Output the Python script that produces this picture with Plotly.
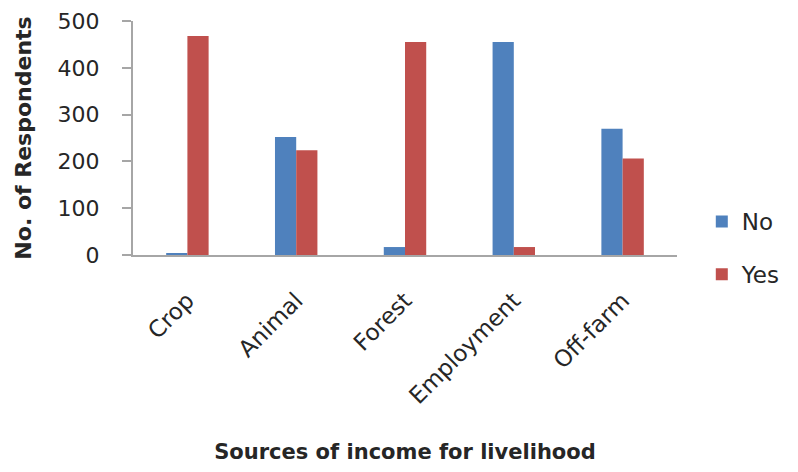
import plotly.graph_objects as go

categories = ["Crop", "Animal", "Forest", "Employment", "Off-farm"]
no_values = [4, 252, 17, 455, 270]
yes_values = [468, 224, 455, 17, 206]
y_ticks = [0, 100, 200, 300, 400, 500]

FONT = "DejaVu Sans"
TXT = "#262626"
fig = go.Figure()
fig.add_trace(go.Bar(name="No", x=categories, y=no_values, marker=dict(color="#4F81BD", line=dict(width=0)), legendgroup="a"))
fig.add_trace(go.Bar(name="Yes", x=categories, y=yes_values, marker=dict(color="#C0504D", line=dict(width=0)), legendgroup="b"))

fig.update_layout(
    width=798, height=472,
    margin=dict(l=133, r=111, t=21, b=217),
    paper_bgcolor="white", plot_bgcolor="white",
    barmode="group", bargap=0.61, bargroupgap=0,
    font=dict(family=FONT, size=21, color=TXT),
    legend=dict(x=1.2, y=0.03, xanchor="right", yanchor="middle",
                font=dict(size=23, color=TXT), tracegroupgap=20,
                itemwidth=30),
    xaxis=dict(showline=True, linecolor="#A6A6A6", linewidth=2, ticks="",
               tickangle=-45, tickfont=dict(size=23, color=TXT), ticklabelstandoff=21,
               title=dict(text="<b>Sources of income for livelihood</b>", font=dict(size=21, color=TXT), standoff=36),
               automargin=False),
    yaxis=dict(range=[0, 500], tickvals=y_ticks, showline=True, linecolor="#A6A6A6", linewidth=2,
               ticks="outside", ticklen=9, tickcolor="#A6A6A6", tickwidth=2, showgrid=False,
               zeroline=False, tickfont=dict(size=22, color=TXT), ticklabelstandoff=18,
               title=dict(text="<b>No. of Respondents</b>", font=dict(size=22, color=TXT), standoff=20),
               automargin=False),
)
fig.write_html("out.html")
